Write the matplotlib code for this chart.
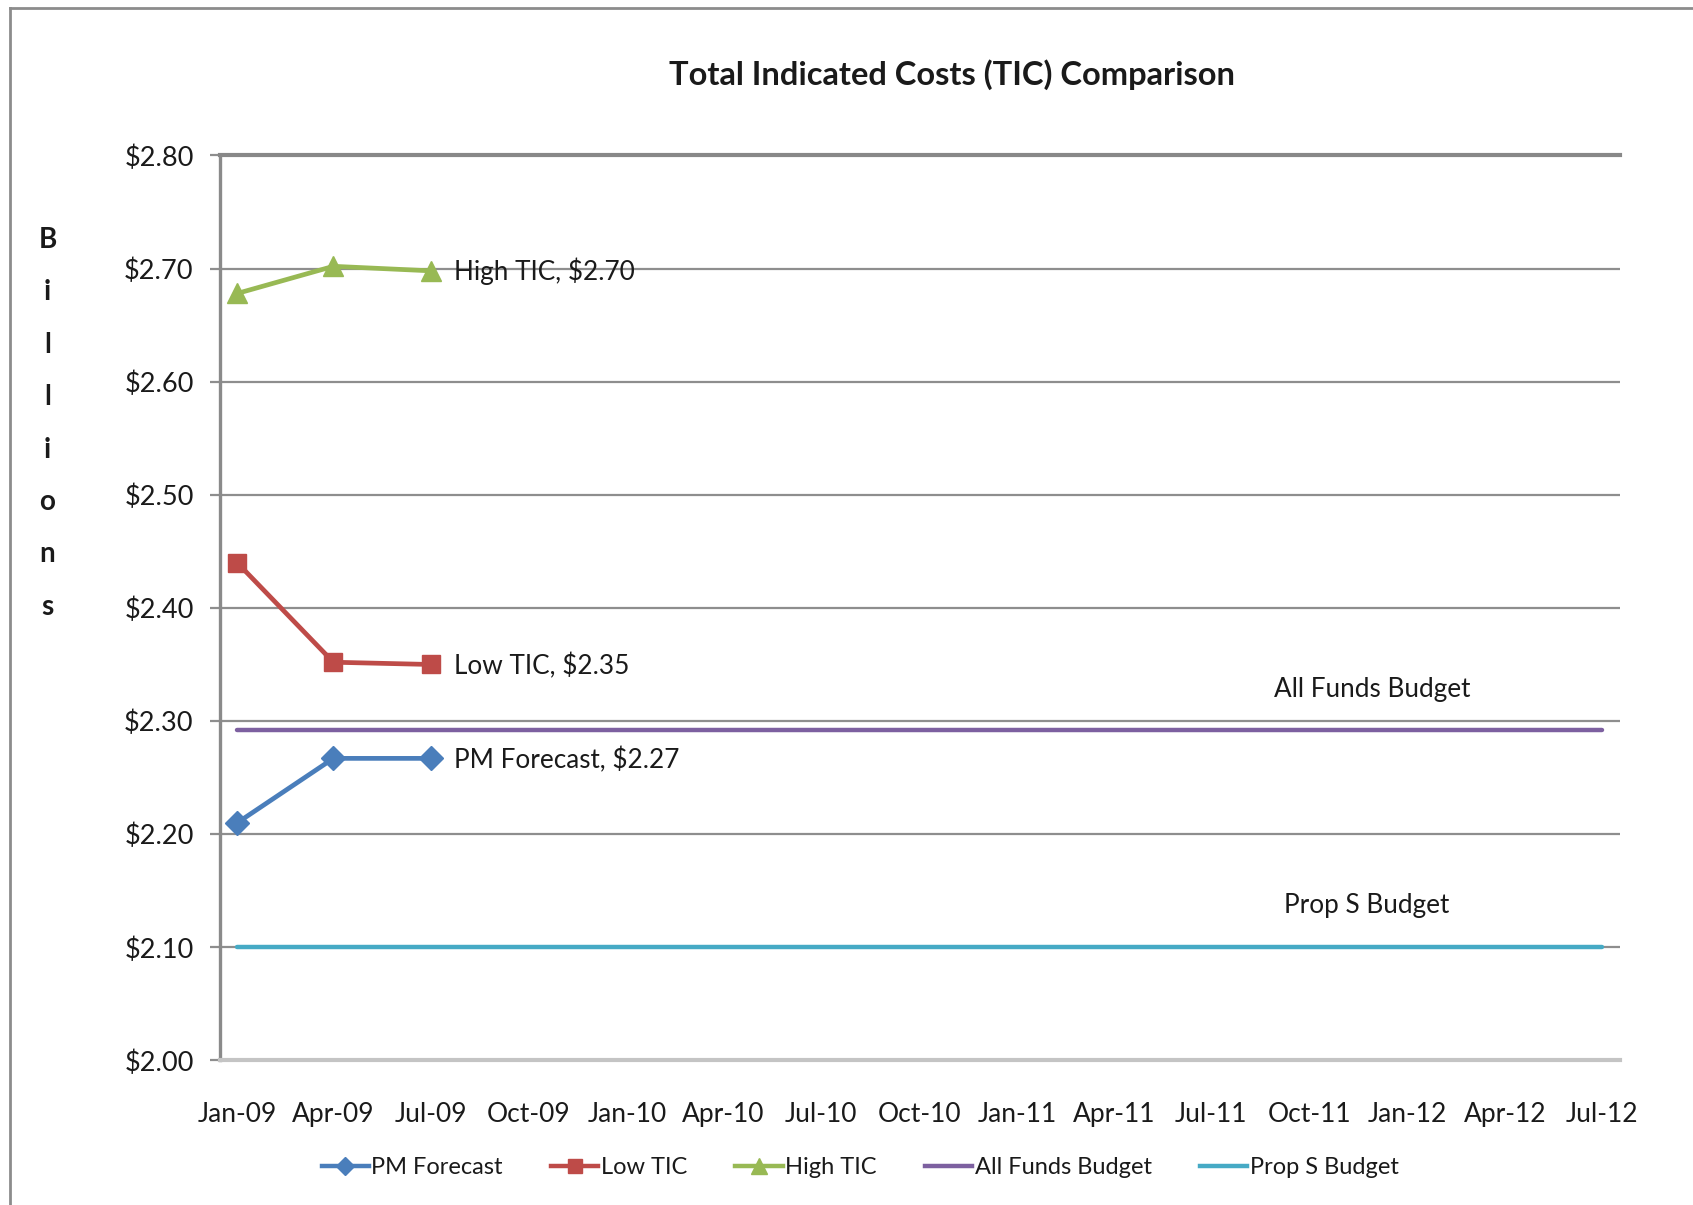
import matplotlib
matplotlib.use("Agg")
import matplotlib.pyplot as plt
import matplotlib.dates as mdates
from matplotlib.lines import Line2D
from matplotlib.ticker import MultipleLocator, FuncFormatter
import pandas as pd

plt.rcParams['font.family'] = ['Lato', 'DejaVu Sans']

# ---------------- data ----------------
title = "Total Indicated Costs (TIC) Comparison"
y_label = "Billions"

series_dates = ["2009-01-01", "2009-04-01", "2009-07-01"]
pm_forecast = [2.210, 2.267, 2.267]
low_tic = [2.440, 2.352, 2.350]
high_tic = [2.678, 2.702, 2.698]

budget_dates = ["2009-01-01", "2009-04-01", "2009-07-01", "2009-10-01",
                "2010-01-01", "2010-04-01", "2010-07-01", "2010-10-01",
                "2011-01-01", "2011-04-01", "2011-07-01", "2011-10-01",
                "2012-01-01", "2012-04-01", "2012-07-01"]
all_funds_budget = [2.292] * 15
prop_s_budget = [2.10] * 15

label_pm = "PM Forecast, $2.27"
label_low = "Low TIC, $2.35"
label_high = "High TIC, $2.70"
label_all_funds = "All Funds Budget"
label_prop_s = "Prop S Budget"
budget_label_date = "2011-12-01"

# ---------------- figure ----------------
fig = plt.figure(figsize=(16.93, 12.05), dpi=100)
ax = fig.add_axes([0.130, 0.120, 0.8266, 0.751])

sd = pd.to_datetime(series_dates)
bd = pd.to_datetime(budget_dates)

c_blue = "#4A7EBB"
c_red = "#BE4B48"
c_green = "#98B954"
c_purple = "#7D60A0"
c_cyan = "#46AAC5"

ax.plot(bd, all_funds_budget, color=c_purple, lw=3.2, solid_capstyle='round', zorder=3)
ax.plot(bd, prop_s_budget, color=c_cyan, lw=3.2, solid_capstyle='round', zorder=3)
ax.plot(sd, pm_forecast, color=c_blue, lw=3.4, marker='D', ms=12, zorder=4)
ax.plot(sd, low_tic, color=c_red, lw=3.4, marker='s', ms=13, zorder=4)
ax.plot(sd, high_tic, color=c_green, lw=3.4, marker='^', ms=14, zorder=4)

lab_fs = 18.8
ax.annotate(label_high, (sd[-1], high_tic[-1]), xytext=(17, 0), textcoords='offset points',
            ha='left', va='center', fontsize=lab_fs, color='#1a1a1a')
ax.annotate(label_low, (sd[-1], low_tic[-1]), xytext=(17, -1), textcoords='offset points',
            ha='left', va='center', fontsize=lab_fs, color='#1a1a1a')
ax.annotate(label_pm, (sd[-1], pm_forecast[-1]), xytext=(17, -1), textcoords='offset points',
            ha='left', va='center', fontsize=lab_fs, color='#1a1a1a')
bl = pd.Timestamp(budget_label_date)
ax.annotate(label_all_funds, (bl, all_funds_budget[0]), xytext=(-2, 29), textcoords='offset points',
            ha='center', va='center', fontsize=lab_fs, color='#1a1a1a')
ax.annotate(label_prop_s, (bl, prop_s_budget[0]), xytext=(-6, 30), textcoords='offset points',
            ha='center', va='center', fontsize=lab_fs, color='#1a1a1a')

# axes
ax.set_ylim(2.0, 2.8)
ax.set_xlim(pd.Timestamp("2008-12-16"), pd.Timestamp("2012-07-17"))
ax.yaxis.set_major_locator(MultipleLocator(0.1))
ax.yaxis.set_major_formatter(FuncFormatter(lambda v, p: f"${v:.2f}"))
ax.xaxis.set_major_locator(mdates.MonthLocator(bymonth=[1, 4, 7, 10]))
ax.xaxis.set_major_formatter(mdates.DateFormatter("%b-%y"))

ax.grid(axis='y', color='#8e8e8e', lw=1.6, zorder=1)
ax.set_axisbelow(True)
ax.spines['right'].set_visible(False)
ax.spines['top'].set_color('#888888')
ax.spines['top'].set_linewidth(3.0)
ax.spines['left'].set_color('#8a8a8a')
ax.spines['left'].set_linewidth(2.4)
ax.spines['bottom'].set_color('#c4c4c4')
ax.spines['bottom'].set_linewidth(3.0)

ax.tick_params(axis='y', direction='out', length=7, width=1.6, color='#8e8e8e',
               labelsize=19.5, pad=12, labelcolor='#1a1a1a')
ax.tick_params(axis='x', length=0, labelsize=19, pad=30, labelcolor='#1a1a1a')

fig.text(0.5625, 0.938, title, ha='center', va='center', fontsize=23.5,
         fontweight='bold', color='#1a1a1a')

# stacked y label
y0 = 1 - 240 / 1205
step = 52.4 / 1205
for i, ch in enumerate(y_label):
    fig.text(47.5 / 1693, y0 - i * step, ch, ha='center', va='center',
             fontsize=20, fontweight='bold', color='#1a1a1a')

# legend
handles = [
    Line2D([], [], color=c_blue, lw=3.2, marker='D', ms=9),
    Line2D([], [], color=c_red, lw=3.2, marker='s', ms=10),
    Line2D([], [], color=c_green, lw=3.2, marker='^', ms=11),
    Line2D([], [], color=c_purple, lw=3.2),
    Line2D([], [], color=c_cyan, lw=3.2),
]
names = ["PM Forecast", "Low TIC", "High TIC", "All Funds Budget", "Prop S Budget"]
fig.legend(handles, names, loc='center', bbox_to_anchor=(0.508, 0.031), ncol=5,
           frameon=False, fontsize=17, handlelength=2.0, handletextpad=0.1,
           columnspacing=2.05, labelcolor='#1a1a1a')

# chart border
fig.add_artist(Line2D([10 / 1693, 10 / 1693], [0, 1 - 8 / 1205], transform=fig.transFigure,
                      color='#8c8c8c', lw=2.0))
fig.add_artist(Line2D([10 / 1693, 1], [1 - 8 / 1205, 1 - 8 / 1205], transform=fig.transFigure,
                      color='#8c8c8c', lw=2.0))

fig.savefig("out.png", dpi=100, facecolor='white')
